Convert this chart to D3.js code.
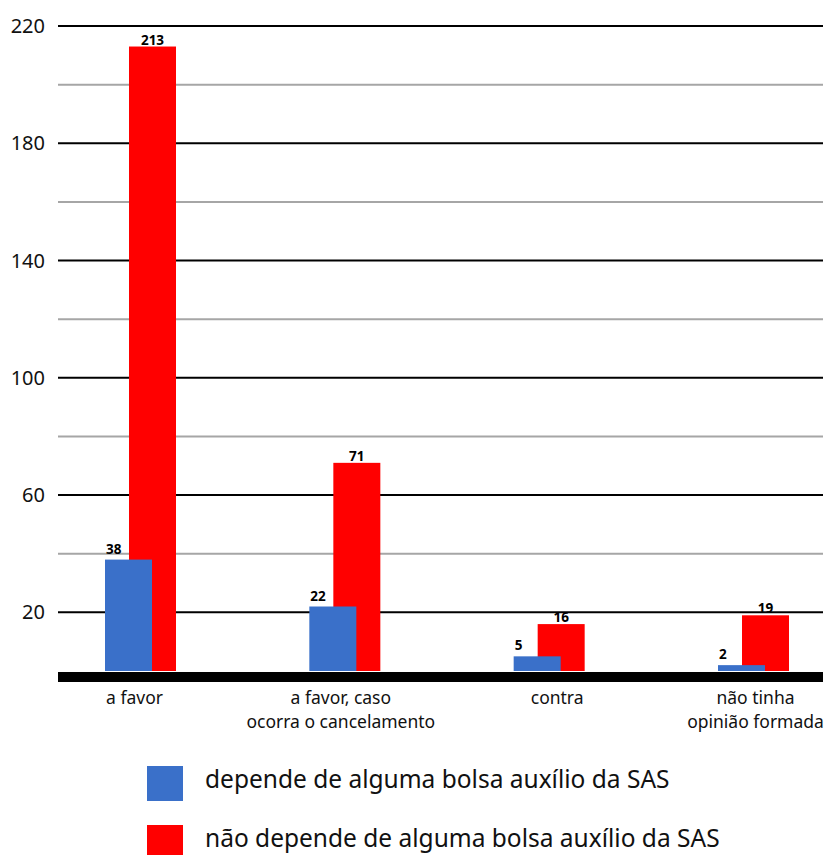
<!DOCTYPE html>
<html lang="pt">
<head>
    <meta charset="UTF-8" />
    <title>Bolsa auxílio SAS</title>
    <script src="https://d3js.org/d3.v7.min.js"></script>
    <style>
        body { margin: 0; background: #fff; }
        svg text { font-family: "Noto Sans", sans-serif; }
    </style>
</head>
<body>
    <div id="container"></div>
    <script>
        // data
        const categories = ["a favor", "a favor, caso|ocorra o cancelamento", "contra", "não tinha|opinião formada"]
        const dependeValues = [38, 22, 5, 2]
        const naoDependeValues = [213, 71, 16, 19]
        const seriesNames = ["depende de alguma bolsa auxílio da SAS", "não depende de alguma bolsa auxílio da SAS"]
        const seriesColors = ["#3a70c9", "#ff0000"]
        const yTicks = [20, 60, 100, 140, 180, 220]
        const yMinorTicks = [40, 80, 120, 160, 200]

        const width = 830
        const height = 855
        const margin = { top: 26, right: 7, bottom: 184, left: 58 }

        const svg = d3.select("#container")
            .append("svg")
            .attr("width", width)
            .attr("height", height)

        const y = d3.scaleLinear()
            .domain([0, 220])
            .range([height - margin.bottom, margin.top])

        const x = d3.scalePoint()
            .domain(categories)
            .range([140.5, 753.5])

        const barWidth = 47

        // grid lines
        svg.append("g")
            .selectAll("line")
            .data(yMinorTicks)
            .join("line")
            .attr("x1", margin.left)
            .attr("x2", width - margin.right)
            .attr("y1", d => y(d))
            .attr("y2", d => y(d))
            .attr("stroke", "#a6a6a6")
            .attr("stroke-width", 2)

        svg.append("g")
            .selectAll("line")
            .data(yTicks)
            .join("line")
            .attr("x1", margin.left)
            .attr("x2", width - margin.right)
            .attr("y1", d => y(d))
            .attr("y2", d => y(d))
            .attr("stroke", "#000")
            .attr("stroke-width", 2)

        svg.append("g")
            .selectAll("text")
            .data(yTicks)
            .join("text")
            .attr("x", 45)
            .attr("y", d => y(d))
            .attr("dy", "0.35em")
            .attr("text-anchor", "end")
            .attr("font-size", 20)
            .attr("fill", "#111")
            .text(d => d)

        // red bars go behind the blue ones
        const red = categories.map((c, i) => ({ cat: c, value: naoDependeValues[i] }))
        const blue = categories.map((c, i) => ({ cat: c, value: dependeValues[i] }))

        svg.append("g")
            .selectAll("rect")
            .data(red)
            .join("rect")
            .attr("x", d => x(d.cat) - 11.5)
            .attr("y", d => y(d.value))
            .attr("width", barWidth)
            .attr("height", d => y(0) - y(d.value))
            .attr("fill", seriesColors[1])

        svg.append("g")
            .selectAll("rect")
            .data(blue)
            .join("rect")
            .attr("x", d => x(d.cat) - 35.5)
            .attr("y", d => y(d.value))
            .attr("width", barWidth)
            .attr("height", d => y(0) - y(d.value))
            .attr("fill", seriesColors[0])

        // value labels
        svg.append("g")
            .selectAll("text")
            .data(red)
            .join("text")
            .attr("x", d => x(d.cat) - 11.5 + barWidth / 2)
            .attr("y", d => y(d.value) - 2)
            .attr("text-anchor", "middle")
            .attr("font-size", 13.5)
            .attr("font-weight", "bold")
            .text(d => d.value)

        svg.append("g")
            .selectAll("text")
            .data(blue)
            .join("text")
            .attr("x", d => x(d.cat) - 35.5 + 1)
            .attr("y", d => y(d.value) - 6)
            .attr("text-anchor", "start")
            .attr("font-size", 13.5)
            .attr("font-weight", "bold")
            .text(d => d.value)

        // thick baseline
        svg.append("rect")
            .attr("x", margin.left)
            .attr("y", y(0) + 1)
            .attr("width", width - margin.right - margin.left)
            .attr("height", 10)
            .attr("fill", "#000")

        // category labels
        const labelShift = [-6, -4, 8, 2]
        const catLabels = svg.append("g")
            .selectAll("text")
            .data(categories)
            .join("text")
            .attr("y", 704)
            .attr("text-anchor", "middle")
            .attr("font-size", 17.5)
            .attr("fill", "#111")

        catLabels.selectAll("tspan")
            .data(d => d.split("|").map(t => ({ t, cat: d })))
            .join("tspan")
            .attr("x", d => x(d.cat) + labelShift[categories.indexOf(d.cat)])
            .attr("dy", (d, i) => i === 0 ? 0 : 24)
            .text(d => d.t)

        // legend
        const legend = svg.append("g")
            .selectAll("g")
            .data(seriesNames)
            .join("g")
            .attr("transform", (d, i) => `translate(147,${766 + i * 59})`)

        legend.append("rect")
            .attr("width", 36)
            .attr("height", 35)
            .attr("fill", (d, i) => seriesColors[i])

        legend.append("text")
            .attr("x", 58)
            .attr("y", 22)
            .attr("font-size", 24.5)
            .attr("fill", "#111")
            .text(d => d)
    </script>
</body>
</html>
